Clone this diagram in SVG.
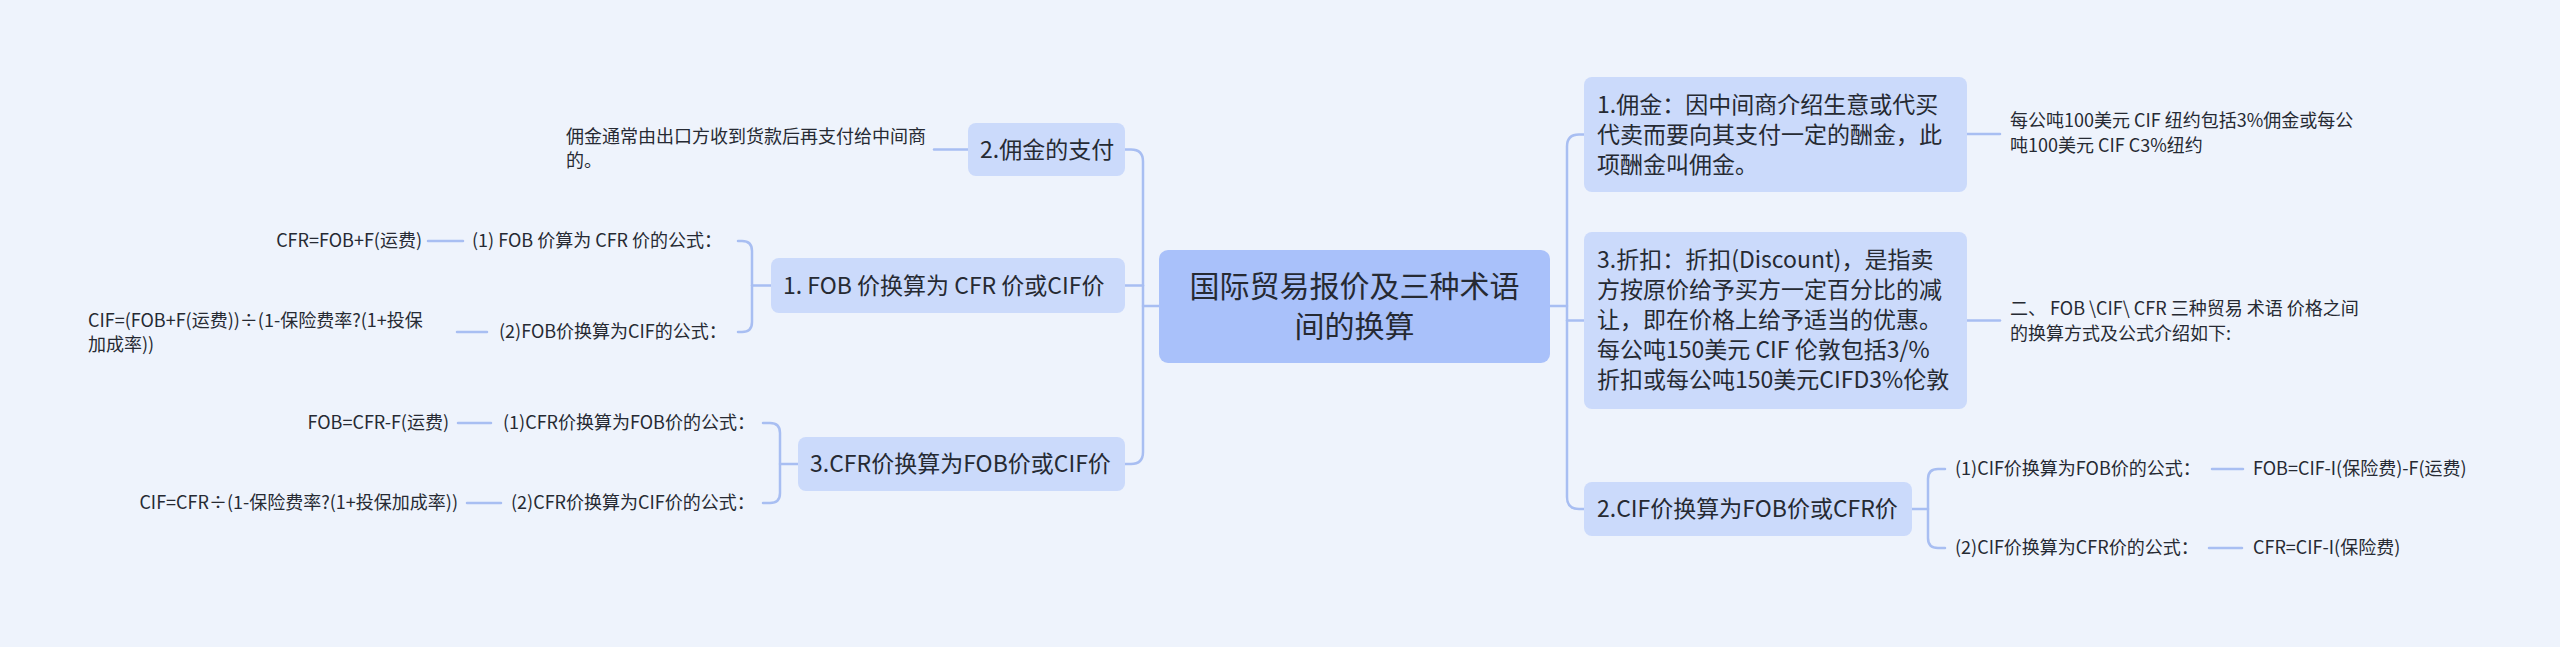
<svg xmlns="http://www.w3.org/2000/svg" width="2560" height="647" viewBox="0 0 2560 647">
<style>
.bg{fill:#eef3fc}
.root{fill:#a9c1fa}
.node{fill:#cbdafb}
.t{font-family:"Noto Sans CJK SC","Noto Sans",sans-serif;fill:#262a33}
.big{font-size:30px}
.mid{font-size:23px}
.sm{font-size:18px}
.c{fill:none;stroke:#a8bef2;stroke-width:2.5;stroke-linecap:round}
</style>
<rect class="bg" x="0" y="0" width="2560" height="647"/>
<g id="connectors">
<path class="c" d="M1159,306 H1143"/>
<path class="c" d="M1125,149.5 H1131 Q1143,149.5 1143,161.5 V452 Q1143,464 1131,464 H1125"/>
<path class="c" d="M1125,285.5 H1143"/>
<path class="c" d="M1550,306 H1567"/>
<path class="c" d="M1584,134.5 H1579 Q1567,134.5 1567,146.5 V497 Q1567,509 1579,509 H1584"/>
<path class="c" d="M1567,320.5 H1584"/>
<path class="c" d="M1967,134 H2000"/>
<path class="c" d="M1967,320.5 H2000"/>
<path class="c" d="M1912,509 H1928"/>
<path class="c" d="M1945,469 H1938 Q1928,469 1928,479 V538 Q1928,548 1938,548 H1945"/>
<path class="c" d="M2212,469 H2243"/>
<path class="c" d="M2209,548 H2242"/>
<path class="c" d="M968,149.5 H934"/>
<path class="c" d="M771,285.5 H752"/>
<path class="c" d="M738,241 H742 Q752,241 752,251 V322 Q752,332 742,332 H738"/>
<path class="c" d="M428,241 H463"/>
<path class="c" d="M457,332 H487"/>
<path class="c" d="M798,464 H780"/>
<path class="c" d="M763,423 H770 Q780,423 780,433 V493 Q780,503 770,503 H763"/>
<path class="c" d="M458,423 H491"/>
<path class="c" d="M467,503 H501"/>
</g>
<g id="root">
<rect class="root" x="1159" y="250" width="391" height="113" rx="9"/>
<text class="t big" x="1354.5" y="297" text-anchor="middle">国际贸易报价及三种术语</text>
<text class="t big" x="1354.5" y="337" text-anchor="middle">间的换算</text>
</g>
<g id="r1">
<rect class="node" x="1584" y="77" width="383" height="115" rx="8"/>
<text class="t mid" x="1597" y="113">1.佣金：因中间商介绍生意或代买</text>
<text class="t mid" x="1597" y="143">代卖而要向其支付一定的酬金，此</text>
<text class="t mid" x="1597" y="173">项酬金叫佣金。</text>
</g>
<g id="r1c">
<text class="t sm" x="2010" y="127">每公吨100美元 CIF 纽约包括3%佣金或每公</text>
<text class="t sm" x="2010" y="152">吨100美元 CIF C3%纽约</text>
</g>
<g id="r3">
<rect class="node" x="1584" y="232" width="383" height="177" rx="8"/>
<text class="t mid" x="1597" y="268">3.折扣：折扣(Discount)，是指卖</text>
<text class="t mid" x="1597" y="298">方按原价给予买方一定百分比的减</text>
<text class="t mid" x="1597" y="328">让，即在价格上给予适当的优惠。</text>
<text class="t mid" x="1597" y="358">每公吨150美元 CIF 伦敦包括3/%</text>
<text class="t mid" x="1597" y="388">折扣或每公吨150美元CIFD3%伦敦</text>
</g>
<g id="r3c">
<text class="t sm" x="2010" y="315">二、 FOB \CIF\ CFR 三种贸易 术语 价格之间</text>
<text class="t sm" x="2010" y="340">的换算方式及公式介绍如下:</text>
</g>
<g id="r2">
<rect class="node" x="1584" y="482" width="328" height="54" rx="8"/>
<text class="t mid" x="1597" y="517">2.CIF价换算为FOB价或CFR价</text>
</g>
<g id="r2a"><text class="t sm" x="1955" y="475">(1)CIF价换算为FOB价的公式：</text></g>
<g id="r2a1"><text class="t sm" x="2253" y="475">FOB=CIF-I(保险费)-F(运费)</text></g>
<g id="r2b"><text class="t sm" x="1955" y="554">(2)CIF价换算为CFR价的公式：</text></g>
<g id="r2b1"><text class="t sm" x="2253" y="554">CFR=CIF-I(保险费)</text></g>
<g id="l2">
<rect class="node" x="968" y="123" width="157" height="53" rx="8"/>
<text class="t mid" x="980" y="158">2.佣金的支付</text>
</g>
<g id="l2c">
<text class="t sm" x="566" y="143">佣金通常由出口方收到货款后再支付给中间商</text>
<text class="t sm" x="566" y="167">的。</text>
</g>
<g id="l1">
<rect class="node" x="771" y="258" width="354" height="55" rx="8"/>
<text class="t mid" x="783" y="294">1. FOB 价换算为 CFR 价或CIF价</text>
</g>
<g id="l1a"><text class="t sm" x="472" y="247">(1) FOB 价算为 CFR 价的公式：</text></g>
<g id="l1a1"><text class="t sm" x="422" y="247" text-anchor="end">CFR=FOB+F(运费)</text></g>
<g id="l1b"><text class="t sm" x="499" y="338">(2)FOB价换算为CIF的公式：</text></g>
<g id="l1b1">
<text class="t sm" x="88" y="327">CIF=(FOB+F(运费))÷(1-保险费率?(1+投保</text>
<text class="t sm" x="88" y="351">加成率))</text>
</g>
<g id="l3">
<rect class="node" x="798" y="437" width="327" height="54" rx="8"/>
<text class="t mid" x="810" y="472">3.CFR价换算为FOB价或CIF价</text>
</g>
<g id="l3a"><text class="t sm" x="503" y="429">(1)CFR价换算为FOB价的公式：</text></g>
<g id="l3a1"><text class="t sm" x="449" y="429" text-anchor="end">FOB=CFR-F(运费)</text></g>
<g id="l3b"><text class="t sm" x="511" y="509">(2)CFR价换算为CIF价的公式：</text></g>
<g id="l3b1"><text class="t sm" x="458" y="509" text-anchor="end">CIF=CFR÷(1-保险费率?(1+投保加成率))</text></g>
</svg>
